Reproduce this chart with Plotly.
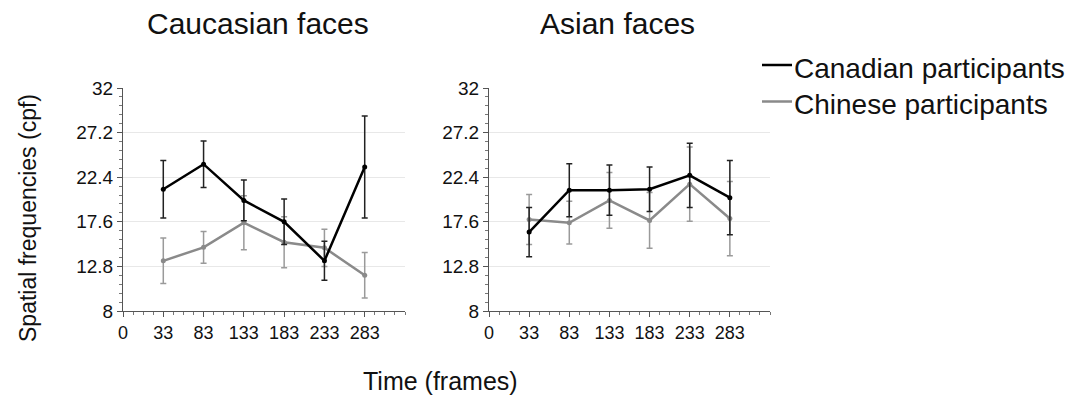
import plotly.graph_objects as go

# ---- data ----
tick_labels = ["0", "33", "83", "133", "183", "233", "283"]
times = ["33", "83", "133", "183", "233", "283"]
y_ticks = [8, 12.8, 17.6, 22.4, 27.2, 32]

cauc_canadian = [21.1, 23.8, 19.9, 17.6, 13.4, 23.5]
cauc_canadian_err = [3.1, 2.5, 2.2, 2.45, 2.1, 5.5]
cauc_chinese = [13.4, 14.85, 17.5, 15.4, 14.8, 11.85]
cauc_chinese_err = [2.45, 1.7, 2.9, 2.75, 2.0, 2.45]

asian_canadian = [16.5, 21.0, 21.0, 21.1, 22.6, 20.2]
asian_canadian_err = [2.65, 2.85, 2.7, 2.4, 3.45, 4.0]
asian_chinese = [17.85, 17.5, 19.9, 17.75, 21.65, 17.95]
asian_chinese_err = [2.7, 2.3, 3.0, 3.0, 4.0, 4.0]

series_names = ["Canadian participants", "Chinese participants"]
colors = {"Canadian participants": "#000000", "Chinese participants": "#8a8a8a"}
err_colors = {"Canadian participants": "#222222", "Chinese participants": "#9a9a9a"}

xpos = [tick_labels.index(t) for t in times]

FONT = "Liberation Sans, Arial, Helvetica, sans-serif"
W, H = 1082, 397

fig = go.Figure()

panels = [
    ("x", "y", cauc_canadian, cauc_canadian_err, cauc_chinese, cauc_chinese_err),
    ("x2", "y2", asian_canadian, asian_canadian_err, asian_chinese, asian_chinese_err),
]

for xa, ya, can, can_e, chi, chi_e in panels:
    for name, vals, errs in [(series_names[1], chi, chi_e), (series_names[0], can, can_e)]:
        fig.add_trace(go.Scatter(
            x=xpos, y=vals, xaxis=xa, yaxis=ya, mode="lines+markers",
            line=dict(color=colors[name], width=2.5),
            marker=dict(color=colors[name], size=5),
            error_y=dict(type="data", array=errs, visible=True,
                         color=err_colors[name], thickness=1.5, width=3),
            showlegend=False, name=name,
        ))

xdoms = [(123 / W, 405 / W), (489 / W, 770 / W)]
ydom = (1 - 311 / H, 1 - 88 / H)

axis_common_x = dict(
    range=[0, 7], tickmode="array", tickvals=list(range(len(tick_labels))),
    ticktext=tick_labels, showgrid=False, zeroline=False, automargin=False,
    showline=True, linecolor="#555555", linewidth=1,
    ticks="outside", ticklen=5, tickcolor="#555555",
    minor=dict(dtick=0.25, tick0=0, ticks="outside", ticklen=3, tickcolor="#777777", showgrid=False),
    tickfont=dict(family=FONT, size=18, color="#111111"),
)
axis_common_y = dict(
    range=[8, 32], tickmode="array", tickvals=y_ticks,
    ticktext=[("%g" % v) for v in y_ticks], automargin=False,
    showgrid=True, gridcolor="#e8e8e8", gridwidth=1, zeroline=False,
    showline=True, linecolor="#555555", linewidth=1,
    ticks="outside", ticklen=5, tickcolor="#555555",
    minor=dict(dtick=0.96, tick0=8, ticks="outside", ticklen=3, tickcolor="#777777", showgrid=False),
    tickfont=dict(family=FONT, size=19, color="#111111"),
)

annotations = [
    dict(text="Caucasian faces", x=258 / W, y=1 - 23 / H),
    dict(text="Asian faces", x=617 / W, y=1 - 23 / H),
]
for a in annotations:
    a.update(xref="paper", yref="paper", showarrow=False, xanchor="center", yanchor="middle",
             font=dict(family=FONT, size=30, color="#111111"))
annotations += [
    dict(text="Spatial frequencies (cpf)", x=28 / W, y=1 - 218 / H, xref="paper", yref="paper",
         showarrow=False, textangle=-90, font=dict(family=FONT, size=23, color="#111111"),
         xanchor="center", yanchor="middle"),
    dict(text="Time (frames)", x=440 / W, y=1 - 381 / H, xref="paper", yref="paper",
         showarrow=False, font=dict(family=FONT, size=25, color="#111111"),
         xanchor="center", yanchor="middle"),
]

# manual legend (line sample + label)
shapes = []
legend_rows = [(series_names[0], 65), (series_names[1], 101.5)]
for name, ypx in legend_rows:
    shapes.append(dict(type="line", xref="paper", yref="paper",
                       x0=762 / W, x1=792 / W, y0=1 - ypx / H, y1=1 - ypx / H,
                       line=dict(color=colors[name], width=2.5)))
    annotations.append(dict(text=name, x=792 / W, y=1 - (ypx + 3) / H, xref="paper", yref="paper",
                            showarrow=False, xanchor="left", yanchor="middle",
                            font=dict(family=FONT, size=28, color="#111111")))

fig.update_layout(
    width=W, height=H,
    margin=dict(l=0, r=0, t=0, b=0),
    paper_bgcolor="white", plot_bgcolor="white",
    font=dict(family=FONT, color="#111111"),
    showlegend=False,
    xaxis=dict(domain=list(xdoms[0]), anchor="y", **axis_common_x),
    yaxis=dict(domain=list(ydom), anchor="x", **axis_common_y),
    xaxis2=dict(domain=list(xdoms[1]), anchor="y2", **axis_common_x),
    yaxis2=dict(domain=list(ydom), anchor="x2", **axis_common_y),
    annotations=annotations,
    shapes=shapes,
)

fig.write_html("out.html", config={"displayModeBar": False},
               post_script="document.body.style.margin='0';document.body.style.overflow='hidden';")
